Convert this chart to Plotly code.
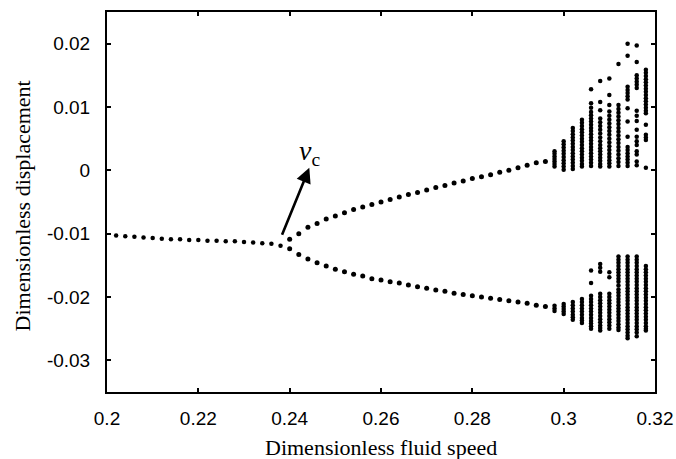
import plotly.graph_objects as go

# ---------------- data ----------------
# stable single branch (before bifurcation)
stable_speed = [0.202, 0.204, 0.206, 0.208, 0.210, 0.212, 0.214, 0.216, 0.218, 0.220,
                0.222, 0.224, 0.226, 0.228, 0.230, 0.232, 0.234, 0.236, 0.238]
stable_disp = [-0.0103, -0.0104, -0.0105, -0.0106, -0.0107, -0.0108, -0.0109, -0.0109, -0.0110, -0.0110,
               -0.0111, -0.0111, -0.0112, -0.0112, -0.0113, -0.0114, -0.0115, -0.0116, -0.0119]

# two branches after bifurcation
branch_speed = [0.240, 0.242, 0.244, 0.246, 0.248, 0.250, 0.252, 0.254, 0.256, 0.258,
                0.260, 0.262, 0.264, 0.266, 0.268, 0.270, 0.272, 0.274, 0.276, 0.278,
                0.280, 0.282, 0.284, 0.286, 0.288, 0.290, 0.292, 0.294, 0.296]
upper_disp = [-0.0109, -0.0100, -0.0090, -0.0084, -0.0077, -0.0072, -0.0067, -0.0062, -0.0058, -0.0054,
              -0.0050, -0.0046, -0.0042, -0.0038, -0.0035, -0.0031, -0.0027, -0.0024, -0.0020, -0.0017,
              -0.0013, -0.0010, -0.0007, -0.0003, 0.0000, 0.0004, 0.0008, 0.0012, 0.0014]
lower_disp = [-0.0124, -0.0133, -0.0140, -0.0146, -0.0151, -0.0156, -0.0160, -0.0164, -0.0167, -0.0171,
              -0.0173, -0.0176, -0.0178, -0.0181, -0.0184, -0.0186, -0.0189, -0.0191, -0.0194, -0.0196,
              -0.0198, -0.0200, -0.0202, -0.0204, -0.0206, -0.0208, -0.0210, -0.0213, -0.0215]

# scattered (multi-valued) region
chaos_speed = [0.298, 0.300, 0.302, 0.304, 0.306, 0.308, 0.310, 0.312, 0.314, 0.316, 0.318]
chaos_disp = [
    [0.0030, 0.0026, 0.0022, 0.0018, 0.0014, 0.0010, 0.0006,
     -0.0214, -0.0218, -0.0222],
    [0.0046, 0.0041, 0.0036, 0.0031, 0.0026, 0.0021, 0.0016, 0.0011, 0.0006, 0.0001,
     -0.0211, -0.0215, -0.0219, -0.0223, -0.0227],
    [0.0067, 0.0062, 0.0057, 0.0052, 0.0047, 0.0042, 0.0037, 0.0032, 0.0027, 0.0022,
     0.0017, 0.0012, 0.0007, 0.0002,
     -0.0208, -0.0213, -0.0218, -0.0223, -0.0228, -0.0232, -0.0236],
    [0.0080, 0.0075, 0.0070, 0.0065, 0.0060, 0.0055, 0.0050, 0.0045, 0.0040, 0.0035,
     0.0030, 0.0025, 0.0020, 0.0015, 0.0010, 0.0006,
     -0.0203, -0.0208, -0.0213, -0.0218, -0.0223, -0.0228, -0.0233, -0.0237, -0.0241],
    [0.0128, 0.0106, 0.0099, 0.0092, 0.0087, 0.0082, 0.0077, 0.0072, 0.0067, 0.0062, 0.0057,
     0.0052, 0.0047, 0.0042, 0.0037, 0.0032, 0.0027, 0.0022, 0.0017, 0.0012, 0.0007,
     -0.0158, -0.0178, -0.0198, -0.0203, -0.0208, -0.0213, -0.0218, -0.0223, -0.0228,
     -0.0233, -0.0238, -0.0242, -0.0246, -0.0250],
    [0.0141, 0.0108, 0.0095, 0.0082, 0.0076, 0.0070, 0.0064, 0.0058, 0.0052, 0.0046, 0.0040,
     0.0035, 0.0030, 0.0025, 0.0020, 0.0015, 0.0010, 0.0006,
     -0.0148, -0.0154, -0.0160, -0.0195, -0.0200, -0.0205, -0.0210, -0.0215, -0.0220,
     -0.0225, -0.0230, -0.0235, -0.0240, -0.0245, -0.0249, -0.0253],
    [0.0145, 0.0119, 0.0103, 0.0093, 0.0086, 0.0080, 0.0074, 0.0068, 0.0062, 0.0056, 0.0050,
     0.0044, 0.0038, 0.0032, 0.0026, 0.0021, 0.0016, 0.0011, 0.0006,
     -0.0161, -0.0169, -0.0195, -0.0200, -0.0205, -0.0210, -0.0215, -0.0220, -0.0225,
     -0.0230, -0.0235, -0.0240, -0.0245, -0.0250],
    [0.0168, 0.0103, 0.0097, 0.0091, 0.0085, 0.0079, 0.0073, 0.0067, 0.0061, 0.0055, 0.0049,
     0.0043, 0.0037, 0.0031, 0.0025, 0.0019, 0.0013, 0.0007,
     -0.0136, -0.0141, -0.0146, -0.0151, -0.0156, -0.0161, -0.0166, -0.0171, -0.0176,
     -0.0182, -0.0188, -0.0193, -0.0198, -0.0203, -0.0208, -0.0213, -0.0218, -0.0223,
     -0.0228, -0.0233, -0.0238, -0.0243, -0.0248, -0.0252],
    [0.0200, 0.0181, 0.0132, 0.0127, 0.0122, 0.0117, 0.0112, 0.0098, 0.0077, 0.0053,
     0.0037, 0.0032, 0.0027, 0.0022, 0.0017, 0.0012, 0.0007,
     -0.0136, -0.0141, -0.0146, -0.0151, -0.0156, -0.0161, -0.0166, -0.0171, -0.0176,
     -0.0181, -0.0186, -0.0191, -0.0196, -0.0201, -0.0206, -0.0211, -0.0216, -0.0221,
     -0.0226, -0.0231, -0.0236, -0.0241, -0.0246, -0.0251, -0.0256, -0.0261, -0.0265],
    [0.0197, 0.0171, 0.0150, 0.0145, 0.0140, 0.0135, 0.0130, 0.0094, 0.0086, 0.0078,
     0.0064, 0.0053, 0.0046, 0.0040, 0.0030, 0.0025, 0.0014, 0.0008,
     -0.0136, -0.0141, -0.0146, -0.0151, -0.0156, -0.0161, -0.0166, -0.0171, -0.0176,
     -0.0181, -0.0186, -0.0191, -0.0196, -0.0201, -0.0206, -0.0211, -0.0216, -0.0221,
     -0.0226, -0.0231, -0.0236, -0.0241, -0.0246, -0.0251, -0.0256, -0.0262],
    [0.0159, 0.0154, 0.0149, 0.0144, 0.0139, 0.0134, 0.0129, 0.0124, 0.0119, 0.0114, 0.0109,
     0.0104, 0.0099, 0.0094, 0.0090, 0.0072, 0.0056, 0.0052, 0.0048, 0.0004,
     -0.0151, -0.0156, -0.0161, -0.0166, -0.0171, -0.0176, -0.0181, -0.0186, -0.0191,
     -0.0196, -0.0201, -0.0206, -0.0211, -0.0216, -0.0221, -0.0226, -0.0231, -0.0236,
     -0.0241, -0.0246, -0.0250, -0.0253],
]

x_ticks = [0.2, 0.22, 0.24, 0.26, 0.28, 0.3, 0.32]
x_tick_text = ["0.2", "0.22", "0.24", "0.26", "0.28", "0.3", "0.32"]
y_ticks = [-0.03, -0.02, -0.01, 0, 0.01, 0.02]
y_tick_text = ["-0.03", "-0.02", "-0.01", "0", "0.01", "0.02"]

x_title = "Dimensionless fluid speed"
y_title = "Dimensionless displacement"

# critical speed annotation (arrow tail -> tip)
vc_tail = (0.2382, -0.0104)
vc_tip = (0.2443, 0.0004)

# ---------------- figure ----------------
SERIF = "Liberation Serif, Times New Roman, serif"
SANS = "Liberation Sans, Arial, sans-serif"

chaos_x = []
chaos_y = []
for s, col in zip(chaos_speed, chaos_disp):
    for v in col:
        chaos_x.append(s)
        chaos_y.append(v)

fig = go.Figure()
fig.add_trace(go.Scatter(x=stable_speed, y=stable_disp, mode="markers",
                         marker=dict(color="black", size=4.5), showlegend=False))
fig.add_trace(go.Scatter(x=branch_speed, y=upper_disp, mode="markers",
                         marker=dict(color="black", size=5), showlegend=False))
fig.add_trace(go.Scatter(x=branch_speed, y=lower_disp, mode="markers",
                         marker=dict(color="black", size=5), showlegend=False))
fig.add_trace(go.Scatter(x=chaos_x, y=chaos_y, mode="markers",
                         marker=dict(color="black", size=4.5), showlegend=False))

fig.add_annotation(x=vc_tip[0], y=vc_tip[1], ax=vc_tail[0], ay=vc_tail[1],
                   xref="x", yref="y", axref="x", ayref="y",
                   text="", showarrow=True, arrowhead=2, arrowsize=1.15,
                   arrowwidth=2.6, arrowcolor="black", standoff=0)
fig.add_annotation(x=vc_tip[0], y=vc_tip[1], xref="x", yref="y",
                   text="<i>v</i><sub>c</sub>", showarrow=False,
                   xanchor="center", yanchor="bottom", xshift=0, yshift=-4,
                   font=dict(family=SERIF, size=28, color="black"))

# axis titles
fig.add_annotation(text=x_title, xref="paper", yref="paper", x=0.5, y=-0.145,
                   xanchor="center", yanchor="middle", showarrow=False,
                   font=dict(family=SERIF, size=22, color="black"))
fig.add_annotation(text=y_title, xref="paper", yref="paper", x=-0.154, y=0.49,
                   xanchor="center", yanchor="middle", showarrow=False, textangle=-90,
                   font=dict(family=SERIF, size=22, color="black"))

axis_common = dict(
    showline=True, linecolor="black", linewidth=2, mirror="ticks",
    ticks="inside", ticklen=4, tickwidth=1.5, tickcolor="black",
    showgrid=False, zeroline=False, automargin=False,
    tickfont=dict(family=SANS, size=19, color="black"),
)

fig.update_xaxes(range=[0.2, 0.32], tickvals=x_ticks, ticktext=x_tick_text,
                 ticklabelstandoff=8, **axis_common)
fig.update_yaxes(range=[-0.035, 0.025], tickvals=y_ticks, ticktext=y_tick_text,
                 ticklabelstandoff=11, **axis_common)

fig.update_layout(
    width=676, height=459,
    margin=dict(l=107, r=21, t=12, b=67),
    paper_bgcolor="white", plot_bgcolor="white",
    showlegend=False,
)

fig.write_html("out.html")
